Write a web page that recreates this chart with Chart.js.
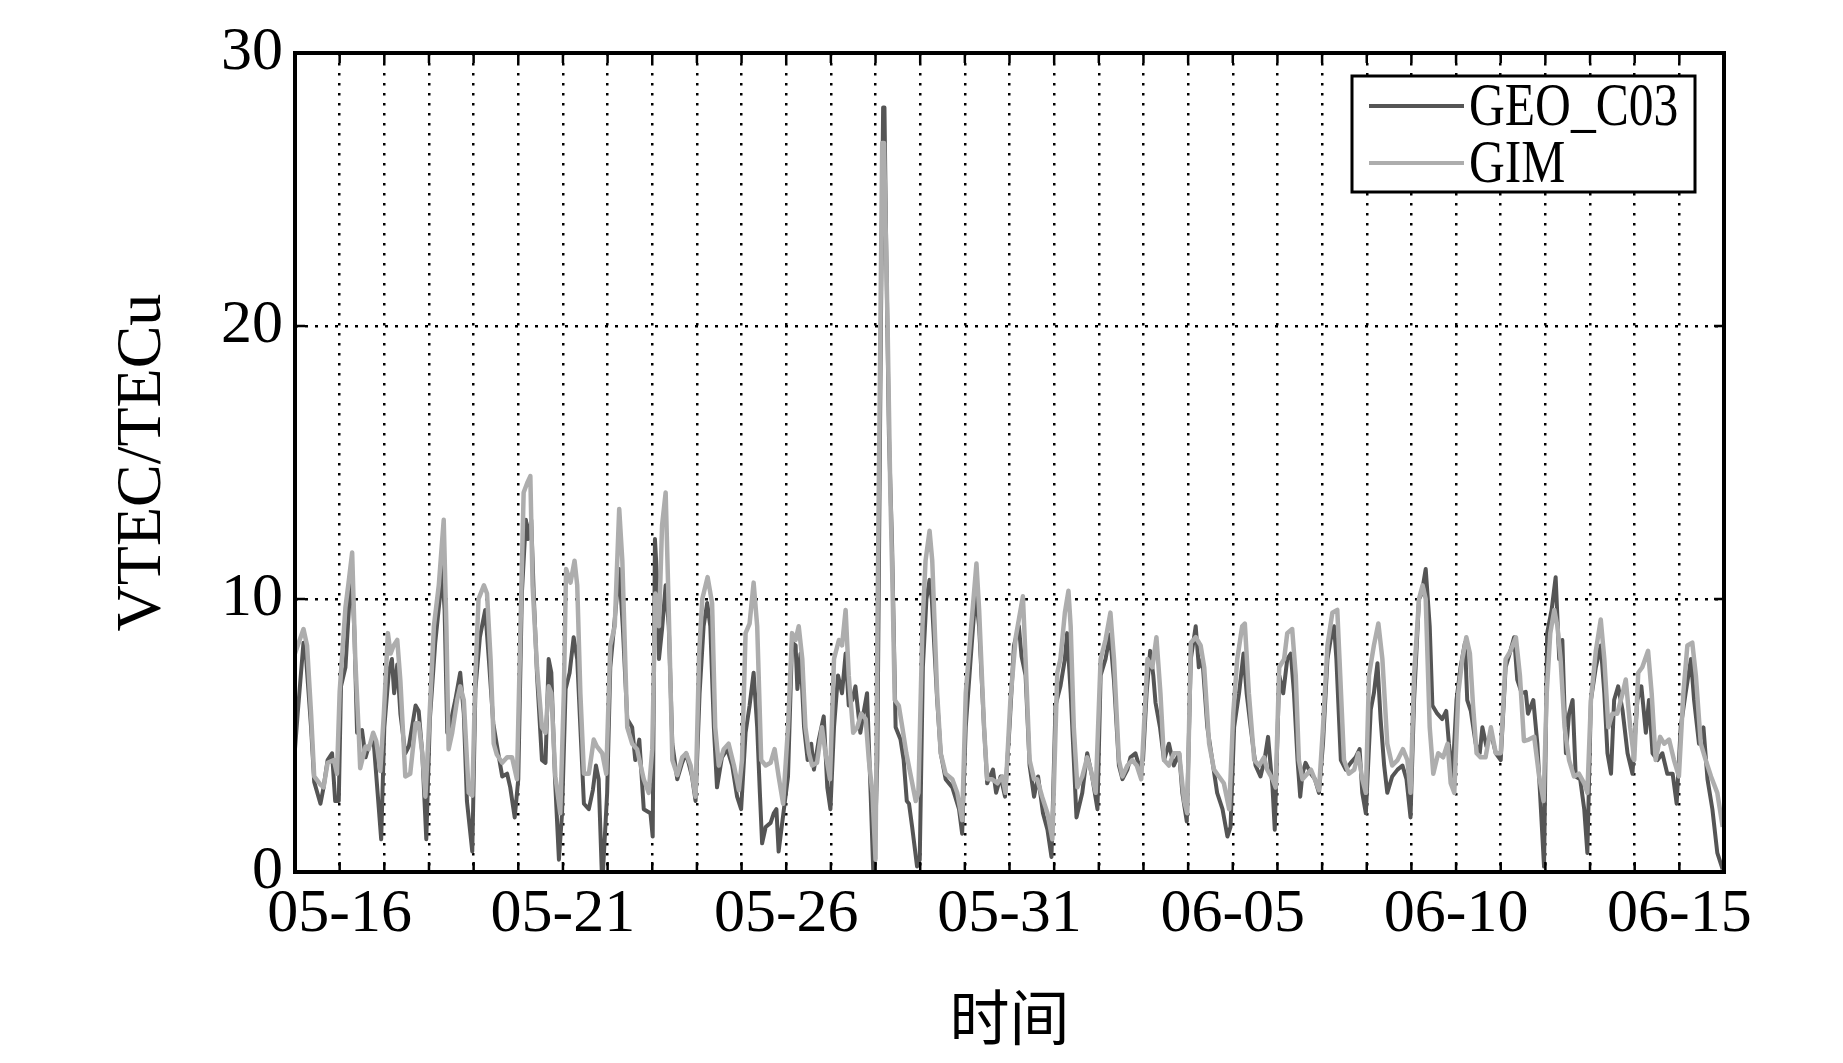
<!DOCTYPE html>
<html>
<head>
<meta charset="utf-8">
<script src="https://cdn.jsdelivr.net/npm/chart.js@4.4.1/dist/chart.umd.min.js"></script>
<style>
  html, body { margin: 0; padding: 0; background: #fff; }
  #wrap { width: 1843px; height: 1063px; }
</style>
</head>
<body>
<div id="wrap"><canvas id="vtecChart" width="1843" height="1063"></canvas></div>
<script>
// time in days since 05-15 00:00, VTEC in TECu
const tickDays = [1, 6, 11, 16, 21, 26, 31];
const tickLabels = ['05-16', '05-21', '05-26', '05-31', '06-05', '06-10', '06-15'];

const geoDays = [
  0.0, 0.06, 0.19, 0.25, 0.36, 0.43, 0.57, 0.64, 0.73, 0.83, 0.9, 0.98,
  1.03, 1.13, 1.22, 1.28, 1.33, 1.39, 1.5, 1.58, 1.65, 1.76, 1.85, 1.93,
  2.0, 2.1, 2.17, 2.22, 2.29, 2.36, 2.47, 2.55, 2.7, 2.77, 2.85, 2.94,
  3.02, 3.14, 3.24, 3.29, 3.35, 3.41, 3.48, 3.59, 3.7, 3.78, 3.85, 3.97,
  4.04, 4.14, 4.26, 4.34, 4.44, 4.52, 4.64, 4.75, 4.82, 4.92,
  5.0, 5.08, 5.17, 5.22, 5.29, 5.35, 5.42, 5.53, 5.61, 5.68, 5.74, 5.82, 5.91, 5.98,
  6.06, 6.15, 6.24, 6.32, 6.39, 6.47, 6.58, 6.67, 6.74, 6.8, 6.88, 6.99,
  7.06, 7.18, 7.26, 7.34, 7.44, 7.55, 7.62, 7.71, 7.81, 7.96,
  8.01, 8.06, 8.11, 8.15, 8.22, 8.3, 8.37, 8.45, 8.56, 8.67, 8.76, 8.89, 8.97,
  9.06, 9.15, 9.23, 9.3, 9.38, 9.45, 9.56, 9.68, 9.79, 9.9, 9.99,
  10.09, 10.18, 10.27, 10.35, 10.41, 10.46, 10.54, 10.65, 10.72, 10.78, 10.83,
  11.04, 11.13, 11.21, 11.25, 11.32, 11.4, 11.48, 11.56, 11.62, 11.73, 11.84, 11.92, 11.99,
  12.07, 12.16, 12.25, 12.33, 12.4, 12.48, 12.55, 12.66, 12.74, 12.81, 12.89, 12.96,
  13.04, 13.12, 13.17, 13.2, 13.23, 13.3, 13.37, 13.45, 13.56, 13.63, 13.7, 13.75, 13.82, 13.93, 13.99,
  14.06, 14.14, 14.21, 14.26, 14.38, 14.46, 14.57, 14.72, 14.87, 14.94,
  15.02, 15.13, 15.24, 15.32, 15.43, 15.5, 15.63, 15.7, 15.8, 15.9,
  16.0, 16.1, 16.21, 16.27, 16.36, 16.45, 16.55, 16.64, 16.75, 16.85, 16.94,
  17.03, 17.14, 17.24, 17.29, 17.37, 17.44, 17.5, 17.63, 17.74, 17.85, 17.97,
  18.04, 18.15, 18.25, 18.34, 18.45, 18.53, 18.64, 18.71, 18.82, 18.9, 18.99,
  19.07, 19.15, 19.22, 19.27, 19.37, 19.46, 19.57, 19.68, 19.8, 19.87, 19.97,
  20.06, 20.17, 20.24, 20.32, 20.43, 20.54, 20.65, 20.77, 20.88, 20.95,
  21.03, 21.14, 21.24, 21.31, 21.4, 21.51, 21.62, 21.71, 21.79, 21.89, 21.94,
  22.04, 22.13, 22.22, 22.3, 22.37, 22.45, 22.51, 22.56, 22.63, 22.75, 22.84, 22.93,
  23.02, 23.12, 23.19, 23.27, 23.32, 23.42, 23.53, 23.64, 23.75, 23.84, 23.9, 23.98,
  24.09, 24.16, 24.24, 24.31, 24.39, 24.46, 24.57, 24.69, 24.8, 24.89, 24.98,
  25.06, 25.17, 25.23, 25.32, 25.41, 25.47, 25.58, 25.69, 25.78, 25.84, 25.92,
  26.01, 26.1, 26.2, 26.25, 26.33, 26.44, 26.53, 26.59, 26.68, 26.78, 26.89,
  27.0, 27.11, 27.2, 27.3, 27.37, 27.47, 27.56, 27.61, 27.73, 27.82, 27.9, 27.97,
  28.04, 28.14, 28.23, 28.31, 28.38, 28.46, 28.53, 28.61, 28.68, 28.78, 28.87, 28.94,
  29.02, 29.13, 29.24, 29.32, 29.39, 29.47, 29.54, 29.63, 29.73, 29.84, 29.95,
  30.06, 30.15, 30.25, 30.32, 30.4, 30.51, 30.62, 30.73, 30.85, 30.94,
  31.03, 31.14, 31.26, 31.33, 31.44, 31.54, 31.63, 31.74, 31.85, 31.97
];
const geoVtec = [
  4.5, 5.8, 8.4, 7.8, 5.3, 3.3, 2.5, 3.1, 4.1, 4.35, 2.6, 2.6,
  6.8, 7.5, 10.0, 10.7, 8.75, 5.1, 5.2, 4.2, 4.6, 4.8, 2.9, 1.2,
  5.3, 7.3, 7.8, 6.55, 7.6, 5.8, 4.35, 4.6, 6.1, 5.9, 4.35, 1.2,
  5.6, 8.4, 10.0, 11.2, 9.6, 5.1, 5.45, 6.3, 7.3, 5.8, 2.6, 0.75,
  6.7, 8.6, 9.6, 7.8, 5.45, 4.65, 3.5, 3.6, 3.1, 2.0,
  3.4, 10.2, 12.9, 12.2, 12.9, 10.0, 7.2, 4.1, 4.0, 7.8, 7.3, 3.5, 0.45, 2.15,
  6.7, 7.3, 8.6, 7.8, 5.3, 2.5, 2.3, 3.0, 3.9, 3.4, -0.5, 2.9,
  7.5, 9.6, 11.1, 9.0, 5.6, 5.3, 4.1, 4.85, 2.3, 2.15,
  1.3, 12.2, 10.7, 7.8, 8.9, 10.5, 9.0, 4.7, 3.4, 4.0, 4.35, 3.5, 2.6,
  6.55, 9.0, 9.85, 9.0, 5.3, 3.1, 4.2, 4.5, 3.9, 2.76, 2.3,
  5.1, 6.1, 7.3, 5.3, 2.9, 1.05, 1.65, 1.8, 2.15, 2.3, 0.75,
  3.5, 8.4, 8.3, 6.7, 8.0, 5.3, 4.1, 4.7, 3.75, 4.85, 5.7, 3.1, 2.3,
  5.3, 7.2, 6.55, 8.0, 6.1, 6.3, 6.8, 5.1, 5.9, 6.55, 2.9, -0.5,
  4.1, 20.0, 28.0, 28.0, 24.0, 16.0, 12.0, 5.3, 4.85, 4.1, 2.6, 2.5, 1.65, 0.2, 0.45,
  7.5, 10.0, 10.7, 10.0, 6.3, 4.35, 3.4, 3.1, 2.3, 1.4,
  5.3, 7.8, 10.2, 9.0, 5.3, 3.25, 3.75, 2.9, 3.5, 2.76,
  5.3, 8.3, 9.0, 7.9, 7.2, 3.9, 2.76, 3.5, 2.15, 1.55, 0.55,
  6.1, 6.8, 7.8, 8.75, 6.55, 4.1, 2.0, 2.9, 4.35, 3.5, 2.3,
  7.2, 7.8, 8.7, 7.0, 3.9, 3.4, 3.75, 4.2, 4.35, 3.9, 4.1,
  6.55, 8.1, 7.2, 6.2, 5.3, 4.1, 4.7, 3.9, 4.35, 2.9, 1.85,
  7.8, 9.0, 7.5, 7.8, 5.3, 4.1, 2.9, 2.3, 1.3, 1.65,
  5.3, 6.55, 8.0, 6.55, 5.3, 3.9, 3.5, 4.1, 4.95, 3.1, 1.55,
  7.2, 6.55, 7.8, 8.0, 6.55, 4.1, 2.76, 3.6, 4.0, 3.6, 3.4, 2.9,
  4.7, 7.8, 8.5, 9.0, 7.8, 4.1, 3.75, 4.0, 4.2, 4.5, 2.9, 2.15,
  5.95, 6.55, 7.65, 5.6, 3.9, 2.9, 3.5, 3.75, 3.9, 3.4, 2.0,
  6.3, 10.0, 10.2, 11.1, 9.0, 6.1, 5.8, 5.6, 5.9, 4.7, 3.5,
  6.3, 7.5, 8.4, 6.3, 5.9, 4.7, 4.35, 5.3, 4.6, 5.1, 4.35,
  4.1, 7.5, 8.0, 8.6, 7.05, 6.55, 6.6, 5.8, 6.3, 4.7, 2.3, 0.2,
  8.75, 9.6, 10.8, 7.8, 8.5, 4.35, 5.8, 6.3, 3.5, 3.4, 2.3, 0.7,
  6.3, 7.5, 8.3, 6.55, 4.35, 3.6, 6.3, 6.8, 5.9, 4.35, 3.6,
  6.3, 6.8, 5.1, 6.3, 4.35, 4.1, 4.35, 3.6, 3.6, 2.5,
  5.3, 6.55, 7.8, 6.3, 4.7, 5.3, 3.4, 2.3, 0.7, 0.1
];

const gimDays = [
  0.0, 0.19, 0.27, 0.36, 0.43, 0.57, 0.64, 0.73, 0.87, 0.94,
  1.0, 1.13, 1.2, 1.28, 1.35, 1.43, 1.46, 1.58, 1.65, 1.75, 1.82, 1.91, 1.99,
  2.08, 2.14, 2.21, 2.29, 2.36, 2.47, 2.58, 2.7, 2.77, 2.85, 2.92,
  3.0, 3.11, 3.22, 3.33, 3.39, 3.44, 3.52, 3.63, 3.7, 3.78, 3.89, 3.97,
  4.04, 4.11, 4.23, 4.3, 4.38, 4.45, 4.52, 4.64, 4.75, 4.86, 4.97,
  5.05, 5.12, 5.2, 5.27, 5.32, 5.42, 5.53, 5.61, 5.68, 5.74, 5.83, 5.94,
  6.02, 6.07, 6.17, 6.26, 6.32, 6.39, 6.47, 6.58, 6.69, 6.76, 6.88, 6.97,
  7.06, 7.16, 7.26, 7.33, 7.44, 7.55, 7.66, 7.81, 7.92,
  8.0, 8.07, 8.15, 8.22, 8.3, 8.36, 8.45, 8.56, 8.67, 8.76, 8.86, 8.97,
  9.05, 9.12, 9.24, 9.34, 9.41, 9.49, 9.6, 9.71, 9.83, 9.94,
  10.01, 10.09, 10.18, 10.27, 10.35, 10.44, 10.54, 10.65, 10.74, 10.83, 10.93,
  11.04, 11.13, 11.21, 11.28, 11.36, 11.43, 11.51, 11.58, 11.69, 11.8, 11.88, 11.98,
  12.07, 12.18, 12.25, 12.33, 12.4, 12.5, 12.59, 12.68, 12.78, 12.85, 12.93,
  13.0, 13.05, 13.15, 13.19, 13.27, 13.33, 13.38, 13.43, 13.52, 13.6, 13.69, 13.78, 13.9, 13.96,
  14.05, 14.12, 14.21, 14.27, 14.38, 14.46, 14.57, 14.72, 14.83, 14.94,
  15.02, 15.13, 15.26, 15.32, 15.43, 15.5, 15.61, 15.73, 15.84, 15.91,
  16.02, 16.14, 16.21, 16.3, 16.36, 16.45, 16.55, 16.62, 16.73, 16.85, 16.96,
  17.07, 17.14, 17.24, 17.32, 17.37, 17.44, 17.52, 17.63, 17.74, 17.82, 17.93,
  18.04, 18.15, 18.26, 18.34, 18.45, 18.53, 18.64, 18.75, 18.85, 18.95,
  19.01, 19.09, 19.2, 19.29, 19.38, 19.46, 19.57, 19.68, 19.8, 19.91, 19.98,
  20.06, 20.17, 20.28, 20.36, 20.47, 20.58, 20.69, 20.8, 20.92,
  21.01, 21.1, 21.21, 21.27, 21.36, 21.48, 21.59, 21.7, 21.77, 21.89, 21.96,
  22.04, 22.15, 22.22, 22.33, 22.41, 22.48, 22.56, 22.67, 22.75, 22.86, 22.93,
  23.02, 23.12, 23.23, 23.34, 23.39, 23.49, 23.6, 23.72, 23.81, 23.9, 23.98,
  24.05, 24.16, 24.26, 24.35, 24.46, 24.57, 24.69, 24.81, 24.91, 24.98,
  25.06, 25.17, 25.25, 25.32, 25.41, 25.49, 25.6, 25.71, 25.81, 25.88, 25.96,
  26.05, 26.14, 26.23, 26.31, 26.38, 26.46, 26.55, 26.66, 26.78, 26.89,
  27.0, 27.11, 27.22, 27.34, 27.43, 27.52, 27.63, 27.75, 27.86, 27.96,
  28.03, 28.11, 28.2, 28.27, 28.34, 28.43, 28.53, 28.64, 28.75, 28.87, 28.94,
  29.02, 29.13, 29.24, 29.32, 29.41, 29.5, 29.61, 29.73, 29.8, 29.9, 29.99,
  30.08, 30.17, 30.3, 30.38, 30.47, 30.57, 30.66, 30.77, 30.88, 30.99,
  31.09, 31.18, 31.29, 31.37, 31.48, 31.59, 31.71, 31.85, 31.97
];
const gimVtec = [
  8.0, 8.9, 8.3, 5.8, 3.5, 3.2, 3.1, 4.0, 4.1, 3.6,
  6.6, 9.7, 10.6, 11.7, 7.8, 5.0, 3.8, 4.6, 4.5, 5.1, 4.8, 3.7, 5.8,
  8.75, 8.0, 8.3, 8.5, 7.0, 3.5, 3.6, 5.45, 5.45, 4.35, 2.76,
  5.3, 9.0, 10.5, 12.9, 9.0, 4.5, 5.1, 6.3, 6.8, 6.3, 2.9, 2.8,
  7.2, 10.0, 10.5, 10.2, 7.8, 4.7, 4.3, 4.0, 4.2, 4.2, 3.4,
  9.0, 13.9, 14.25, 14.5, 10.5, 7.5, 5.3, 5.1, 6.8, 6.55, 3.5, 2.15,
  6.55, 11.1, 10.6, 11.4, 10.5, 6.55, 3.6, 3.6, 4.85, 4.6, 4.35, 3.6,
  8.3, 9.0, 13.3, 11.4, 5.3, 4.7, 4.5, 3.4, 2.9,
  4.5, 10.2, 9.0, 12.7, 13.9, 10.2, 4.1, 3.55, 4.2, 4.35, 3.9, 2.76,
  8.0, 10.0, 10.8, 9.85, 5.3, 3.9, 4.5, 4.7, 3.9, 3.0,
  4.1, 8.75, 9.1, 10.6, 9.0, 4.1, 3.9, 4.0, 4.5, 3.5, 2.5,
  5.3, 8.75, 8.5, 9.0, 7.8, 5.3, 4.35, 3.9, 4.0, 5.3, 4.35, 3.4,
  7.8, 8.5, 8.3, 9.6, 7.2, 5.1, 5.3, 5.8, 5.6, 4.1, 2.9,
  0.45, 10.2, 26.7, 26.7, 20.0, 14.0, 10.5, 6.3, 6.1, 5.3, 4.35, 3.6, 2.6, 2.9,
  9.0, 11.4, 12.5, 11.4, 6.55, 4.35, 3.6, 3.4, 2.9, 1.9,
  6.55, 8.75, 11.3, 9.6, 5.3, 3.4, 3.4, 3.25, 3.5, 2.9,
  6.3, 8.6, 9.25, 10.1, 7.8, 4.1, 3.4, 3.4, 2.76, 2.15, 1.2,
  7.3, 7.8, 9.5, 10.3, 9.0, 5.3, 3.1, 3.5, 4.2, 3.75, 2.9,
  7.8, 8.5, 9.5, 7.8, 4.1, 3.5, 3.9, 4.1, 3.9, 3.4,
  5.3, 7.8, 7.5, 8.6, 6.55, 4.1, 3.9, 4.35, 4.35, 2.6, 2.15,
  8.4, 8.6, 8.3, 7.5, 4.7, 3.75, 3.5, 3.25, 2.3,
  5.8, 7.8, 9.0, 9.1, 6.55, 4.1, 3.9, 4.2, 3.75, 3.4, 3.1,
  7.5, 7.8, 8.75, 8.9, 7.2, 4.1, 3.4, 3.6, 3.75, 3.3, 3.0,
  5.3, 8.3, 9.5, 9.6, 7.8, 4.1, 3.6, 3.75, 4.35, 3.4, 2.9,
  7.2, 8.3, 9.1, 7.8, 4.7, 3.9, 4.1, 4.5, 4.1, 2.9,
  7.2, 10.0, 10.5, 10.0, 5.3, 3.6, 4.35, 4.2, 4.7, 3.25, 2.9,
  6.55, 7.8, 8.6, 8.0, 6.1, 4.35, 4.2, 4.2, 5.3, 4.35,
  4.35, 7.8, 8.1, 8.6, 7.2, 4.8, 4.85, 4.95, 3.5, 2.6,
  6.55, 8.75, 9.6, 9.0, 7.8, 5.3, 4.1, 3.5, 3.6, 3.25, 2.9,
  6.3, 8.1, 9.25, 7.8, 5.3, 5.8, 5.8, 6.55, 7.05, 5.3, 4.1,
  7.3, 7.5, 8.1, 6.55, 4.1, 4.95, 4.7, 4.85, 4.1, 3.5,
  6.55, 8.3, 8.4, 7.2, 4.7, 4.1, 3.5, 2.9, 1.65
];

const serif = "'Liberation Serif', 'Times New Roman', serif";

const toPoints = (days, values) => days.map((d, i) => ({ x: d, y: values[i] }));

// matlab-style frame, inward ticks and boxed legend
const framePlugin = {
  id: 'frame',
  afterDatasetsDraw(chart) {
    const { ctx, chartArea: a, scales: { x, y } } = chart;
    ctx.save();
    ctx.strokeStyle = '#000';
    ctx.lineWidth = 2.5;
    ctx.beginPath();
    for (let d = 1; d < 32; d++) {
      const px = x.getPixelForValue(d);
      ctx.moveTo(px, a.bottom); ctx.lineTo(px, a.bottom - 10);
      ctx.moveTo(px, a.top); ctx.lineTo(px, a.top + 10);
    }
    [10, 20].forEach(v => {
      const py = y.getPixelForValue(v);
      ctx.moveTo(a.left, py); ctx.lineTo(a.left + 10, py);
      ctx.moveTo(a.right, py); ctx.lineTo(a.right - 10, py);
    });
    ctx.stroke();

    ctx.lineWidth = 4;
    ctx.strokeRect(a.left, a.top, a.right - a.left, a.bottom - a.top);

    // legend
    const bx = a.right - 372, by = a.top + 23, bw = 343, bh = 116;
    ctx.fillStyle = '#fff';
    ctx.fillRect(bx, by, bw, bh);
    ctx.lineWidth = 3;
    ctx.strokeRect(bx, by, bw, bh);
    const items = [
      { label: 'GEO_C03', color: '#555555', dy: 53 },
      { label: 'GIM', color: '#adadad', dy: 110 }
    ];
    items.forEach(it => {
      const ly = a.top + it.dy;
      ctx.strokeStyle = it.color;
      ctx.lineWidth = 4;
      ctx.beginPath();
      ctx.moveTo(bx + 17, ly);
      ctx.lineTo(bx + 112, ly);
      ctx.stroke();
      ctx.save();
      ctx.translate(bx + 117, ly);
      ctx.scale(0.8, 1);
      ctx.fillStyle = '#000';
      ctx.font = '62px ' + serif;
      ctx.textBaseline = 'middle';
      ctx.textAlign = 'left';
      ctx.fillText(it.label, 0, 3);
      ctx.restore();
    });
    ctx.restore();
  }
};

const ctx = document.getElementById('vtecChart');

new Chart(ctx, {
  type: 'line',
  data: {
    datasets: [
      {
        label: 'GEO_C03',
        data: toPoints(geoDays, geoVtec),
        borderColor: '#555555',
        borderWidth: 4,
        borderJoinStyle: 'round',
        pointRadius: 0,
        tension: 0,
        fill: false,
        order: 2
      },
      {
        label: 'GIM',
        data: toPoints(gimDays, gimVtec),
        borderColor: '#adadad',
        borderWidth: 4.5,
        borderJoinStyle: 'round',
        pointRadius: 0,
        tension: 0,
        fill: false,
        order: 1
      }
    ]
  },
  options: {
    responsive: false,
    animation: false,
    devicePixelRatio: 1,
    layout: { padding: { left: 0, right: 119, top: 53, bottom: 0 } },
    plugins: {
      legend: { display: false },
      tooltip: { enabled: false }
    },
    scales: {
      x: {
        type: 'linear',
        min: 0,
        max: 32,
        afterFit: scale => { scale.height = 191; },
        afterBuildTicks: scale => {
          scale.ticks = [];
          for (let d = 0; d <= 32; d++) scale.ticks.push({ value: d });
        },
        grid: { color: '#000', lineWidth: 2.5, drawTicks: false },
        border: { display: false, dash: [2.5, 7.5] },
        ticks: {
          autoSkip: false,
          maxRotation: 0,
          padding: 6,
          color: '#000',
          font: { family: serif, size: 62 },
          callback: value => {
            const i = tickDays.indexOf(value);
            return i >= 0 ? tickLabels[i] : '';
          }
        },
        title: {
          display: true,
          text: '时间',
          color: '#000',
          font: { family: "'Noto Sans CJK SC', sans-serif", size: 60, lineHeight: 1 },
          padding: { top: 0, bottom: 16 }
        }
      },
      y: {
        min: 0,
        max: 30,
        afterFit: scale => { scale.width = 295; },
        grid: { color: '#000', lineWidth: 2.5, drawTicks: false },
        border: { display: false, dash: [3, 7] },
        ticks: {
          stepSize: 10,
          padding: 12,
          color: '#000',
          font: { family: serif, size: 62 }
        },
        title: {
          display: true,
          text: 'VTEC/TECu',
          color: '#000',
          font: { family: serif, size: 64, lineHeight: 1 },
          padding: { top: 111, bottom: 0 }
        }
      }
    }
  },
  plugins: [framePlugin]
});
</script>
</body>
</html>
